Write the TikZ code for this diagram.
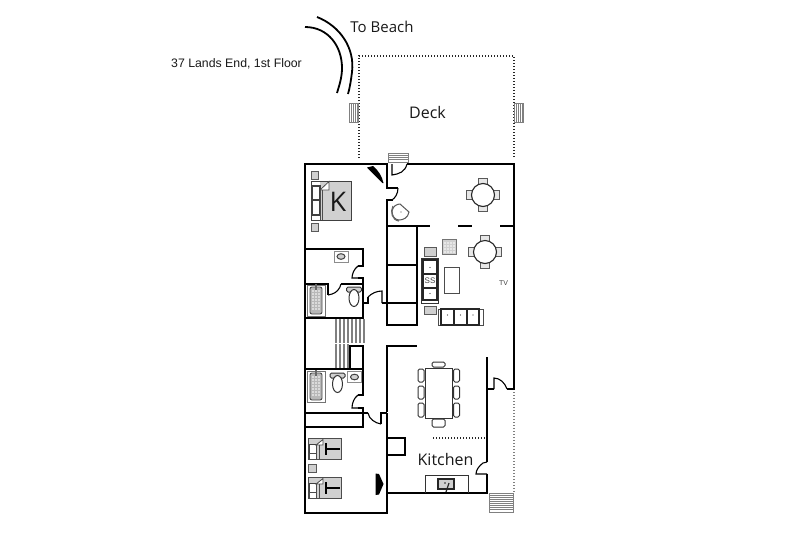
\documentclass[tikz,border=0pt]{standalone}
\usepackage{fontspec}
\setmainfont{Open Sans}
\newfontfamily\arialf{Liberation Sans}
\definecolor{fur}{HTML}{D0D0D0}
\definecolor{mid}{HTML}{808080}
\tikzset{
 wall/.style={line width=1.8pt,black,line cap=butt,line join=miter},
 heavy/.style={line width=2.2pt,black},
 doorline/.style={line width=1.1pt,black},
 furn/.style={line width=1pt,draw=black!80,fill=white},
 greyf/.style={line width=.9pt,draw=black!65,fill=fur},
 thin/.style={line width=.8pt,draw=black!70},
 stair/.style={line width=.8pt,draw=mid},
 deckdot/.style={line width=1.1pt,black!85,dash pattern=on 1.4pt off 1.6pt},
 label/.style={inner sep=0pt,text=black!90}
}
\newcommand{\roundtbl}[2]{%
 \begin{scope}[shift={(#1,#2)}]
  \draw[greyf,fill=fur!50] (-16.5,-4.5) rectangle (-10,4.5);
  \draw[greyf,fill=fur!50] (10,-4.5) rectangle (16.5,4.5);
  \draw[greyf,fill=fur!50] (-4.5,-16.5) rectangle (4.5,-10);
  \draw[greyf,fill=fur!50] (-4.5,10) rectangle (4.5,16.5);
  \draw[line width=1.1pt,black!85,fill=white] (0,0) circle (11.5);
 \end{scope}}
\newcommand{\dinechair}[4]{\draw[furn,rounded corners=1.5pt,fill=white] (#1,#2) rectangle (#3,#4);}
\newcommand{\twinbed}[2]{%
 \begin{scope}[shift={(#1,#2)}]
  \fill[fur] (0,0) rectangle (33,21);
  \draw[thin] (0,0) rectangle (33,21);
  \draw[line width=1pt,draw=black!75,fill=white] (1,6) rectangle (8,15);
  \draw[thin,fill=white] (1,15) rectangle (8,21);
  \fill[white] (8,7) -- (15,1.5) -- (15,7) -- cycle;
  \draw[thin] (8,7) -- (15,1.5) -- (15,7) -- cycle;
  \draw[thin] (8,7) -- (8,21);
  \draw[thin] (11,7) -- (11,21);
  \draw[line width=1.4pt,black] (18,11) -- (32,11);
  \draw[line width=1.4pt,black] (18,5) -- (18,17);
 \end{scope}}
\newcommand{\tub}[2]{%
 \begin{scope}[shift={(#1,#2)}]
  \draw[line width=.7pt,draw=black!55,fill=white] (0,0) rectangle (18,31);
  \draw[line width=.9pt,draw=black!70,fill=black!28,rounded corners=2pt] (3,2) rectangle (15,29);
  \foreach \yy in {6,9,12,15,18,21,24}{\foreach \xx in {6,9,12}{\fill[white] (\xx,\yy) circle (.8);}}
  \draw[line width=1.1pt,black!60] (9,-1) -- (9,5);
 \end{scope}}
\newcommand{\toilet}[2]{%
 \begin{scope}[shift={(#1,#2)}]
  \draw[line width=1pt,draw=black!80,fill=fur,rounded corners=1.5pt] (-7.5,-5) rectangle (7.5,0);
  \draw[line width=1pt,draw=black!80,fill=white] (0,6) ellipse (5 and 8.5);
 \end{scope}}
\newcommand{\basin}[2]{%
 \begin{scope}[shift={(#1,#2)}]
  \draw[line width=.7pt,draw=black!45,fill=white] (-7,-5.5) rectangle (7,5.5);
  \draw[line width=1pt,draw=black!75,fill=black!18] (0,0) ellipse (4 and 2.8);
 \end{scope}}
\begin{document}
\begin{tikzpicture}[x=1pt,y=-1pt]
\useasboundingbox (0,0) rectangle (800,539);
\fill[white] (0,0) rectangle (800,539);
% text
\node[label,font=\fontsize{15}{18}\selectfont] (beach) at (382,27) {To Beach};
\node[label,font=\arialf\fontsize{12.3}{14}\selectfont] (addr) at (236.5,64) {37 Lands End, 1st Floor};
\node[label,font=\fontsize{16}{18}\selectfont] (deck) at (427.5,112) {Deck};
\node[label,font=\fontsize{16}{18}\selectfont] (kitchen) at (445.5,459) {Kitchen};
% road
\draw[line width=1.8pt] (317,17) .. controls (340,26) and (355,48) .. (352,72) .. controls (351,80) and (350,87) .. (348,94);
\draw[line width=1.8pt] (305,27) .. controls (328,27) and (342,46) .. (342,68) .. controls (342,78) and (339,86) .. (337,93);
% deck
\draw[deckdot] (359,158) -- (359,56) -- (514,56) -- (514,158);
\draw[deckdot,black!50] (514,389) -- (514,493);
% steps
\begin{scope}
 \draw[stair,fill=white] (349,103) rectangle (358,122);
 \foreach \xx in {351,353,355,357}{\draw[stair] (\xx,103) -- (\xx,122);}
 \draw[stair,fill=white] (514,103) rectangle (523,122);
 \foreach \xx in {516,518,520,522}{\draw[stair] (\xx,103) -- (\xx,122);}
 \draw[stair,fill=white] (388,153) rectangle (408,162);
 \foreach \yy in {155,157,159}{\draw[stair] (388,\yy) -- (408,\yy);}
 \draw[stair,fill=white] (489,493) rectangle (513,512);
 \foreach \yy in {495,497,499,501,503,505,507,509}{\draw[stair] (489,\yy) -- (513,\yy);}
 \foreach \xx in {336,340,344,348,352,356,360,364}{\draw[line width=1.6pt,mid] (\xx,319) -- (\xx,343);}
 \foreach \xx in {336,340,344,348}{\draw[line width=1.6pt,mid] (\xx,344) -- (\xx,369);}
\end{scope}
% outer walls
\draw[wall] (387,164) -- (305,164) -- (305,512.7) -- (387,512.7) -- (387,413);
\draw[wall] (407,164) -- (514,164);
\draw[heavy] (514,163) -- (514,389.9);
\draw[wall] (514,389) -- (507,389);
\draw[wall] (494,389) -- (487,389);
\draw[wall] (487,357) -- (487,462);
\draw[wall] (487,474) -- (487,493.9);
\draw[wall] (387,493) -- (487,493);
\draw[wall] (386.1,346) -- (417,346);
\draw[wall] (387,345.3) -- (387,412);
% closet in bedroom
\draw[wall] (387,438) -- (405,438) -- (405,455) -- (387,455);
% upper interior
\draw[wall] (387,163) -- (387,188) -- (393,188);
\draw[wall] (393,200) -- (387,200) -- (387,325.9);
\draw[wall] (387,226) -- (430,226);
\draw[wall] (458,226) -- (472,226);
\draw[wall] (500,226) -- (514,226);
\draw[wall] (417,226) -- (417,325) -- (387,325);
\draw[wall] (387,265) -- (417,265);
\draw[wall] (382,303) -- (417,303);
% bath 1
\draw[wall] (305,249) -- (363,249) -- (363,266) -- (358,266);
\draw[wall] (358,278) -- (363,278) -- (363,318) -- (305,318);
\draw[wall] (305,284) -- (328,284) -- (328,295);
\draw[wall] (341,284) -- (363,284);
\draw[wall] (363,303) -- (368,303) -- (368,297);
% stair wall + bath 2
\draw[wall] (350,346) rectangle (363,369);
\draw[wall] (305,369) -- (363,369) -- (363,395) -- (358,395);
\draw[wall] (358,408) -- (363,408) -- (363,427) -- (305,427);
\draw[wall] (305,413) -- (368,413);
\draw[wall] (381,424) -- (381,413) -- (387,413);
% door leaves
\draw[doorline] (392,164) -- (392,175) .. controls (399,174) and (405,172) .. (407,164);
\draw[doorline] (398,188) .. controls (398,194) and (395,198) .. (392,200);
\draw[doorline] (358,266) .. controls (354,269) and (352,274) .. (352,278) -- (358,278);
\draw[doorline] (328,295) -- (332,294) .. controls (336,293) and (340,289) .. (341,284);
\draw[doorline] (368,297) .. controls (372,293) and (377,291) .. (382,291) -- (382,303);
\draw[doorline] (358,395) .. controls (354,398) and (352,403) .. (352,408) -- (358,408);
\draw[doorline] (368,413) .. controls (369,419) and (375,423) .. (381,424);
\draw[doorline] (494,389) -- (494,378) .. controls (500,378) and (505,383) .. (507,389);
\draw[doorline] (487,462) -- (483,463) .. controls (479,466) and (476,470) .. (476,474) -- (487,474);
\draw[doorline] (393,188) -- (398,188);
% black fireplaces
\fill[black] (367,167.5) -- (373,166) .. controls (378,170) and (382,176) .. (383.5,183) -- (382.5,183) -- cycle;
\fill[black] (375.5,473.5) -- (379,474) -- (383.5,484) -- (379,494.5) -- (375.5,495) -- cycle;
% dotted
\draw[deckdot] (433,438) -- (486,438);
% king bed
\draw[greyf] (311,171) rectangle (318,179);
\draw[greyf] (311,223) rectangle (318,231);
\fill[fur] (320,181) rectangle (351,220);
\draw[line width=1pt,black!75] (311,181) rectangle (351,220);
\draw[line width=1.1pt,black!75,fill=white] (312,186) rectangle (320,200);
\draw[line width=1.1pt,black!75,fill=white] (312,200) rectangle (320,215);
\fill[white] (320,190) -- (329,181.5) -- (329,190) -- cycle;
\draw[thin] (320,190) -- (329,181.5) -- (329,190) -- cycle;
\draw[thin] (320,190) -- (320,220);
\draw[thin] (322,190) -- (322,220);
\node[label,font=\fontsize{27}{30}\selectfont] (kingl) at (338,202) {K};
% round stool
\draw[line width=1pt,black!65,fill=white] (392,211) .. controls (393,206) and (397,204) .. (400,204) -- (409,212) .. controls (408,218) and (403,220) .. (399,220) .. controls (395,220) and (392,216) .. (392,211);
\draw[line width=1.2pt,black!60] (393,206) .. controls (390,212) and (392,220) .. (399,221);
\fill[black!70] (401,212) circle (.6);
% bath fixtures
\basin{341}{256.5}
\tub{307}{285}
\toilet{354}{292}
\tub{307}{371}
\toilet{337.5}{378}
\basin{354.5}{377}
% beds
\twinbed{308}{438}
\twinbed{308}{477}
\draw[greyf] (308,464) rectangle (316,472);
% dining tables
\roundtbl{483}{195}
\roundtbl{485}{252}
% living
\draw[line width=.8pt,draw=black!55,fill=fur] (442,239) rectangle (456,254);
\foreach \xx in {445,448,451,454}{\foreach \yy in {243,246,249,252}{\fill[white] (\xx,\yy) circle (.9);}}
\draw[greyf] (424,247) rectangle (436,256);
\draw[greyf] (424,306) rectangle (436,314);
\draw[furn,line width=1pt] (421,258) rectangle (438,303);
\draw[line width=1.1pt,black!85] (423,260) rectangle (437,300);
\draw[line width=1.1pt,black!85] (423,274) -- (437,274);
\draw[line width=1.1pt,black!85] (423,288) -- (437,288);
\fill[black!80] (430,267.5) circle (.7);
\fill[black!80] (430,293.5) circle (.7);
\node[label,font=\arialf\fontsize{8}{9}\selectfont,text=black!75] (ss) at (430,281) {SS};
\draw[thin,fill=white] (444,267) rectangle (459.5,293.5);
\draw[thin,fill=white] (438,309) rectangle (483,325);
\draw[line width=1.1pt,black!85] (441,309) rectangle (479,325);
\draw[line width=1.1pt,black!85] (454,309) -- (454,325);
\draw[line width=1.1pt,black!85] (467,309) -- (467,325);
\fill[black!80] (447.5,315) circle (.7);
\fill[black!80] (460.5,315) circle (.7);
\fill[black!80] (473,315) circle (.7);
\node[label,font=\arialf\fontsize{7}{8}\selectfont,text=black!75] (tv) at (503.5,283) {TV};
% dining
\draw[furn,fill=white] (425,368) rectangle (452.5,418);
\dinechair{418}{369}{424}{382}
\dinechair{418}{386}{424}{399}
\dinechair{418}{403}{424}{417}
\dinechair{453.5}{369}{459.5}{382}
\dinechair{453.5}{386}{459.5}{399}
\dinechair{453.5}{403}{459.5}{417}
\dinechair{432}{362}{445}{367}
\dinechair{432}{419}{445}{427}
% kitchen counter
\draw[line width=1pt,black!80] (425,493) -- (425,475) -- (468.5,475) -- (468.5,493);
\draw[line width=1.1pt,black!85,fill=fur] (438,479) rectangle (454,489);
\draw[line width=1.2pt,black!85] (449,483) -- (446,492);
\fill[black!85] (445,483) circle (.9);
\end{tikzpicture}
\end{document}
